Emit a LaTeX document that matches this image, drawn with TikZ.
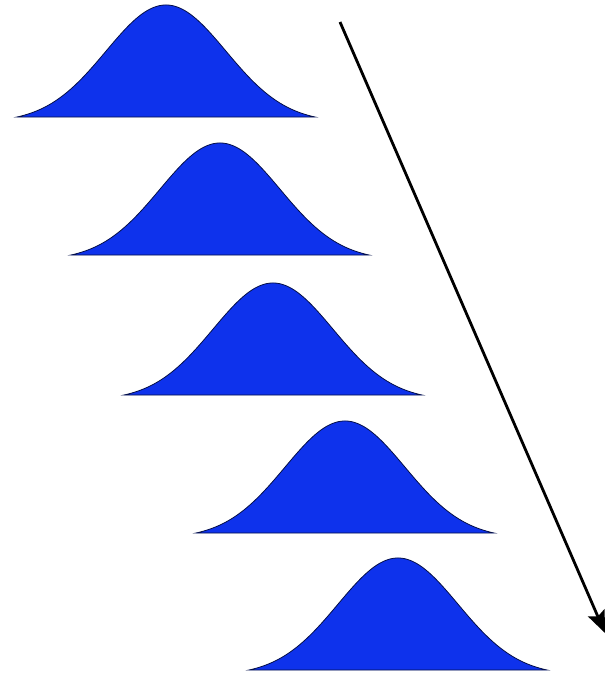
\documentclass[tikz,border=0pt]{standalone}
\usetikzlibrary{arrows.meta}
\definecolor{bellblue}{RGB}{14,50,236}
\tikzset{
  bell/.style={fill=bellblue, draw=black!70!bellblue, line width=0.8pt},
  trend/.style={line width=2.8pt, -{Stealth[length=22pt,width=18pt,inset=4pt]}}
}
\begin{document}
\begin{tikzpicture}[x=1pt,y=-1pt]
\useasboundingbox (0,0) rectangle (612,683);
\foreach \cx/\by in {166/117, 220/255, 273/395, 345/533, 398/670}{
  \draw[bell] plot[domain=-149:149, samples=120, smooth] ({\cx+\x},{\by-117.4*(exp(-0.5*(\x/60)^2)-0.0458)}) -- cycle;
}
\coordinate (s) at (340,22);
\coordinate (e) at (605,633);
\draw[trend] (s) -- (e);
\end{tikzpicture}
\end{document}
